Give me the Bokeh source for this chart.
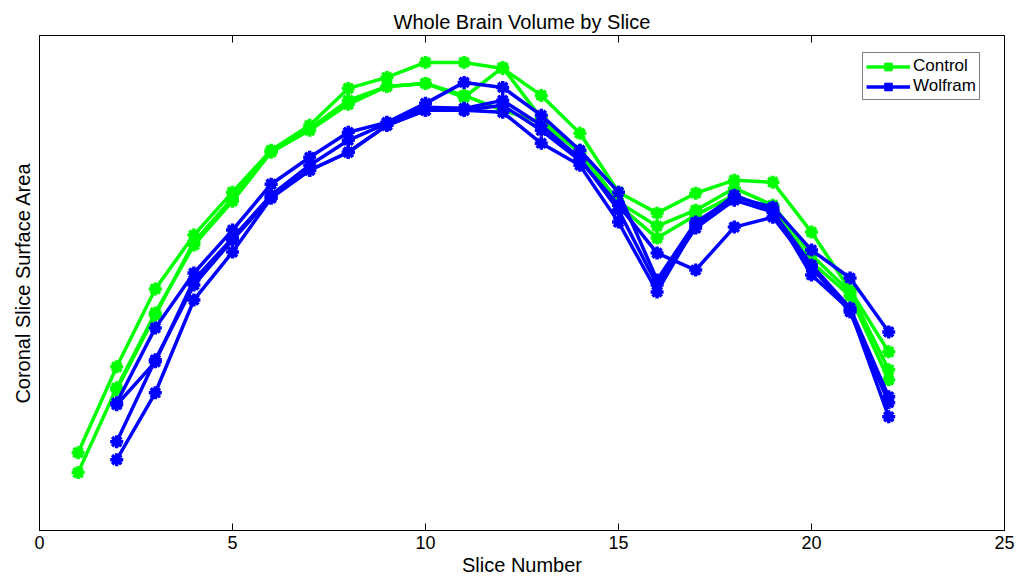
from bokeh.plotting import figure
from bokeh.models import Range1d, FixedTicker, Legend, LegendItem, ColumnDataSource
from bokeh.embed import file_html
from bokeh.resources import INLINE
import math

nan = float("nan")

slices = list(range(1, 23))
x_ticks = [0, 5, 10, 15, 20, 25]
y_top = 496

# Control subjects (arbitrary area units)
control_1 = [78, 164, 242, 296, 339, 381, 406, 443, 454, 469, 469, 463, 436, 398, 339, 318, 338, 351, 349, 299, 241, 179]
control_2 = [58, 143, 218, 286, 330, 379, 401, 427, 445, 448, 434, 464, 413, 381, 329, 305, 321, 343, 326, 276, 239, 161]
control_3 = [nan, 141, 216, 289, 333, 380, 403, 431, 445, 448, 436, 421, 409, 379, 326, 293, 316, 336, 321, 269, 235, 151]

# Wolfram subjects
wolfram_1 = [nan, 128, 203, 258, 301, 347, 374, 399, 409, 428, 449, 444, 416, 381, 339, 251, 309, 334, 324, 281, 253, 199]
wolfram_2 = [nan, 89, 171, 246, 291, 334, 361, 379, 406, 421, 421, 426, 401, 371, 326, 278, 261, 304, 314, 264, 219, 128]
wolfram_3 = [nan, 71, 138, 231, 279, 333, 361, 379, 406, 421, 421, 419, 388, 366, 309, 239, 306, 336, 321, 256, 221, 114]
wolfram_4 = [nan, 126, 169, 251, 293, 336, 366, 391, 408, 424, 423, 431, 406, 373, 321, 246, 303, 331, 319, 266, 223, 134]

FONT = "Liberation Sans"
GREEN = "#00FF00"
BLUE = "#0000FF"

p = figure(width=1020, height=578, output_backend="svg", toolbar_location=None,
           x_range=Range1d(0, 25), y_range=Range1d(0, y_top),
           title="Whole Brain Volume by Slice",
           min_border_left=39, min_border_right=16, min_border_top=35, min_border_bottom=47)

p.title.align = "center"
p.title.text_font = FONT
p.title.text_font_size = "20px"
p.title.text_font_style = "normal"
p.title.text_color = "black"
p.title.standoff = 5
p.title.offset = 0

p.xgrid.grid_line_color = None
p.ygrid.grid_line_color = None
p.outline_line_color = "black"
p.outline_line_width = 1
p.background_fill_color = "white"
p.border_fill_color = "white"

xa = p.xaxis[0]
xa.ticker = FixedTicker(ticks=x_ticks)
xa.major_tick_in = 7
xa.major_tick_out = 0
xa.minor_tick_in = 0
xa.minor_tick_out = 0
xa.major_label_text_font = FONT
xa.major_label_text_font_size = "18px"
xa.major_label_text_color = "black"
xa.major_label_standoff = 5
xa.axis_label = "Slice Number"
xa.axis_label_text_font = FONT
xa.axis_label_text_font_size = "20px"
xa.axis_label_text_font_style = "normal"
xa.axis_label_text_color = "black"
xa.axis_label_standoff = 2
xa.axis_line_color = "black"

ya = p.yaxis[0]
ya.ticker = FixedTicker(ticks=[])
ya.major_tick_in = 0
ya.major_tick_out = 0
ya.minor_tick_in = 0
ya.minor_tick_out = 0
ya.axis_label = "Coronal Slice Surface Area"
ya.axis_label_text_font = FONT
ya.axis_label_text_font_size = "20px"
ya.axis_label_text_font_style = "normal"
ya.axis_label_text_color = "black"
ya.axis_label_standoff = 6

# top tick marks (MATLAB box style)
p.scatter(x=x_ticks, y=[y_top] * len(x_ticks), marker="dash", angle=math.pi / 2,
          size=14, line_color="black", line_width=1)

series = [(control_1, GREEN), (control_2, GREEN), (control_3, GREEN),
          (wolfram_1, BLUE), (wolfram_2, BLUE), (wolfram_3, BLUE), (wolfram_4, BLUE)]

legend_refs = {}
for vals, col in series:
    src = ColumnDataSource(dict(x=slices, y=vals))
    l = p.line("x", "y", source=src, line_color=col, line_width=3.5)
    s = p.scatter("x", "y", source=src, marker="asterisk", size=13, line_color=col, line_width=3.5)
    s2 = p.scatter("x", "y", source=src, marker="square", size=8, fill_color=col, line_color=col)
    if col not in legend_refs:
        legend_refs[col] = [l, s, s2]

legend = Legend(items=[LegendItem(label="Control", renderers=legend_refs[GREEN]),
                       LegendItem(label="Wolfram", renderers=legend_refs[BLUE])],
                location=(823, 430))
legend.border_line_color = "black"
legend.border_line_width = 1
legend.label_text_font = FONT
legend.label_text_font_size = "17px"
legend.label_text_color = "black"
legend.glyph_width = 44
legend.glyph_height = 19
legend.label_height = 19
legend.spacing = 0
legend.padding = 3
legend.margin = 0
legend.label_standoff = 3
legend.background_fill_alpha = 1
p.add_layout(legend, "center")

open("out.html", "w").write(file_html(p, INLINE))
